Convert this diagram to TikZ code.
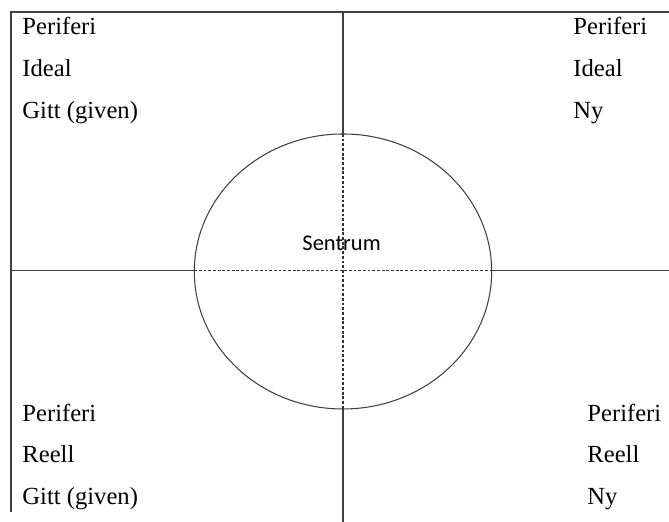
\documentclass[tikz,border=0pt]{standalone}
\usepackage{fontspec}
\setmainfont{Liberation Serif}
\newfontfamily\sentrumfont{Carlito}
\begin{document}
\begin{tikzpicture}[x=1.5cm, y=1.5cm,
    felt/.style={anchor=base west, inner sep=0pt, font=\fontsize{10.5}{12}\selectfont},
    akse/.style={black!75, line width=0.45pt},
    hjelpelinje/.style={black!80, line width=0.45pt, dash pattern=on 1.2pt off 0.8pt}]
    \useasboundingbox (0,0) rectangle (6.69,5.22);
    % ramme og akser
    \coordinate (S) at (3.43,2.505);
    \draw[akse] (6.69,5.10) -- (0.11,5.10) -- (0.11,0.10);
    \draw[akse] (0.11,2.513) -- (1.943,2.513);
    \draw[akse] (4.917,2.513) -- (6.69,2.513);
    \draw[akse] (3.43,5.10) -- (3.43,3.88);
    \draw[akse] (3.43,1.13) -- (3.43,0);
    \draw[akse] (S) ellipse [x radius=1.487, y radius=1.375];
    \draw[hjelpelinje] (1.943,2.513) -- (4.917,2.513);
    \draw[hjelpelinje] (3.43,3.88) -- (3.43,1.13);
    \node[anchor=base west, inner sep=0pt, font=\sentrumfont\fontsize{9.6}{11}\selectfont] (sentrum) at (3.02,2.71) {Sentrum};
    % ideal
    \node[felt] (gp1) at (0.22,4.87) {Periferi};
    \node[felt] (gp2) at (0.22,4.45) {Ideal};
    \node[felt] (gp3) at (0.22,4.03) {Gitt (given)};
    \node[felt] (np1) at (5.73,4.87) {Periferi};
    \node[felt] (np2) at (5.73,4.45) {Ideal};
    \node[felt] (np3) at (5.73,4.03) {Ny};
    % reell
    \node[felt] (gr1) at (0.22,1.00) {Periferi};
    \node[felt] (gr2) at (0.22,0.59) {Reell};
    \node[felt] (gr3) at (0.22,0.17) {Gitt (given)};
    \node[felt] (nr1) at (5.87,1.00) {Periferi};
    \node[felt] (nr2) at (5.87,0.59) {Reell};
    \node[felt] (nr3) at (5.87,0.17) {Ny};
\end{tikzpicture}
\end{document}
